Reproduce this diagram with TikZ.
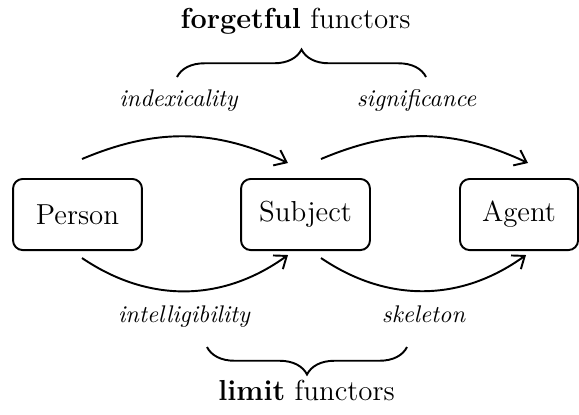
\documentclass[tikz,border=0pt]{standalone}
\usepackage{amsmath}
\usepackage{tikz}
\usetikzlibrary{calc,positioning,arrows.meta,decorations.pathreplacing}

\begin{document}
\begin{tikzpicture}[>={Straight Barb[length=4.5pt,width=7pt]},thick,x=0.415pt,y=-0.415pt,
		box/.style={draw, rounded corners=4pt, minimum width=53.5pt, minimum height=29.5pt, font=\large},
		functor/.style={anchor=base, font=\itshape},
		heading/.style={anchor=base, font=\large},
		brace/.style={decorate, decoration={brace, amplitude=11.4pt}}]
	\useasboundingbox (0,0) rectangle (579,414);

	% the three categories
	\node [box] (person) at (77.5,214.5) {Person};
	\node [box] (subject) at (305.5,214.5) {Subject};
	\node [box, minimum width=49pt] (agent) at (519,214.5) {Agent};

	% ends of the functor arrows
	\coordinate (ps top start) at (82,159);
	\coordinate (ps top end) at (288,163);
	\coordinate (sa top start) at (321,159);
	\coordinate (sa top end) at (528,163);
	\coordinate (ps bot start) at (82,258);
	\coordinate (ps bot end) at (288,255);
	\coordinate (sa bot start) at (321,258);
	\coordinate (sa bot end) at (526,255);

	\draw [->] (ps top start) to[bend left=24] (ps top end);
	\draw [->] (sa top start) to[bend left=24] (sa top end);
	\draw [->] (ps bot start) to[bend right=35] (ps bot end);
	\draw [->] (sa bot start) to[bend right=35] (sa bot end);

	\node [functor] (indexicality) at (178.5,106) {indexicality};
	\node [functor] (significance) at (416.5,106) {significance};
	\node [functor] (intelligibility) at (184,322) {intelligibility};
	\node [functor] (skeleton) at (423.5,322) {skeleton};

	% braces and headings
	\coordinate (top brace left) at (177,77);
	\coordinate (top brace right) at (426,77);
	\coordinate (bot brace left) at (207,347);
	\coordinate (bot brace right) at (407,347);

	\draw [brace] (top brace left) -- (top brace right);
	\draw [brace] (bot brace right) -- (bot brace left);

	\node [heading] (forgetful) at (295.5,28) {\textbf{forgetful} functors};
	\node [heading] (limit) at (306.5,400) {\textbf{limit} functors};
\end{tikzpicture}
\end{document}
